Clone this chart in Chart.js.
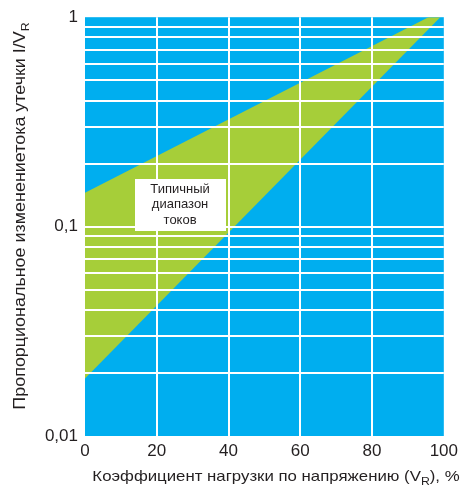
<!DOCTYPE html>
<html>
<head>
<meta charset="utf-8">
<script src="https://cdn.jsdelivr.net/npm/chart.js@4.4.0/dist/chart.umd.min.js"></script>
<style>
  html, body { margin: 0; padding: 0; background: #ffffff; }
  canvas { display: block; }
</style>
</head>
<body>
<canvas id="chart" width="463" height="485"></canvas>
<script>
// Load factor (% of rated voltage) at the ends of the band boundaries
const loadPercent = [0, 100];
// Upper and lower edges of the typical leakage-current band, I/V_R
const upperBound = [0.145, 1.09];
const lowerBound = [0.0188, 1.04];

// Axis ticks
const xTicks = [0, 20, 40, 60, 80, 100];
const yTicks = [0.01, 0.02, 0.03, 0.04, 0.05, 0.06, 0.07, 0.08, 0.09,
                0.1, 0.2, 0.3, 0.4, 0.5, 0.6, 0.7, 0.8, 0.9, 1];
const yLabeledTicks = [0.01, 0.1, 1];
const yTickLabels = ['0,01', '0,1', '1'];

// Band caption and where it sits (in data units)
const bandCaption = ['Типичный', 'диапазон', 'токов'];
const bandCaptionAt = { x: 26.5, y: 0.127 };

const FONT = "'Liberation Sans', Arial, Helvetica, sans-serif";
const TEXT = '#231f20';
const BLUE = '#00aeef';
const GREEN = '#a6ce39';

const plotBackground = {
  id: 'plotBackground',
  beforeDraw(chart) {
    const { ctx, chartArea: a } = chart;
    ctx.save();
    ctx.fillStyle = BLUE;
    ctx.fillRect(a.left, a.top, a.right - a.left, a.bottom - a.top);
    ctx.restore();
  }
};

// Draws a run of text pieces (some as subscripts), centred on cx,
// widened horizontally by `stretch`
function drawRichText(ctx, parts, cx, y, size, stretch) {
  const subSize = Math.round(size * 0.7);
  let total = 0;
  parts.forEach(p => {
    ctx.font = (p.sub ? subSize : size) + 'px ' + FONT;
    p.w = ctx.measureText(p.t).width;
    total += p.w;
  });
  ctx.save();
  ctx.translate(cx, y);
  ctx.scale(stretch, 1);
  let x = -total / 2;
  parts.forEach(p => {
    ctx.font = (p.sub ? subSize : size) + 'px ' + FONT;
    ctx.fillText(p.t, x, p.sub ? size * 0.28 : 0);
    x += p.w;
  });
  ctx.restore();
}

const titlesAndCaption = {
  id: 'titlesAndCaption',
  afterDraw(chart) {
    const { ctx, scales } = chart;
    ctx.save();
    ctx.fillStyle = TEXT;
    ctx.textBaseline = 'alphabetic';
    ctx.textAlign = 'left';

    // X axis title
    drawRichText(ctx, [
      { t: 'Коэффициент нагрузки по напряжению (V' },
      { t: 'R', sub: true },
      { t: '), %' }
    ], 276, 481, 15, 1.12);

    // Y axis title
    ctx.save();
    ctx.translate(25, 216);
    ctx.rotate(-Math.PI / 2);
    drawRichText(ctx, [
      { t: 'Пропорциональное изменениетока утечки I/V' },
      { t: 'R', sub: true }
    ], 0, 0, 16, 1.12);
    ctx.restore();

    // Caption box over the band
    const cx = scales.x.getPixelForValue(bandCaptionAt.x);
    const cy = scales.y.getPixelForValue(bandCaptionAt.y);
    const w = 91, h = 52;
    ctx.fillStyle = '#ffffff';
    ctx.fillRect(Math.round(cx - w / 2), Math.round(cy - h / 2), w, h);
    ctx.fillStyle = TEXT;
    ctx.font = '13px ' + FONT;
    ctx.textAlign = 'center';
    ctx.textBaseline = 'middle';
    bandCaption.forEach((line, i) => {
      ctx.fillText(line, cx, cy + (i - 1) * 15.5);
    });
    ctx.restore();
  }
};

const gridColor = (min, max) => (c) =>
  (c.tick && (c.tick.value === min || c.tick.value === max)) ? 'rgba(0,0,0,0)' : '#ffffff';

new Chart(document.getElementById('chart'), {
  type: 'line',
  data: {
    datasets: [
      {
        label: 'upper',
        data: loadPercent.map((x, i) => ({ x, y: upperBound[i] })),
        borderWidth: 0,
        pointRadius: 0,
        backgroundColor: GREEN,
        fill: '+1'
      },
      {
        label: 'lower',
        data: loadPercent.map((x, i) => ({ x, y: lowerBound[i] })),
        borderWidth: 0,
        pointRadius: 0,
        fill: false
      }
    ]
  },
  options: {
    responsive: false,
    animation: false,
    devicePixelRatio: 1,
    layout: { padding: { left: 0, right: 17, top: 17, bottom: 0 } },
    plugins: { legend: { display: false }, tooltip: { enabled: false } },
    scales: {
      x: {
        type: 'linear',
        min: 0,
        max: 100,
        afterBuildTicks(scale) { scale.ticks = xTicks.map(v => ({ value: v })); },
        afterFit(scale) { scale.height = 49; },
        ticks: {
          color: TEXT,
          font: { family: FONT, size: 17 },
          padding: 5,
          maxRotation: 0
        },
        grid: { color: gridColor(0, 100), lineWidth: 2, drawTicks: false, z: 1 },
        border: { display: false }
      },
      y: {
        type: 'logarithmic',
        min: 0.01,
        max: 1,
        afterBuildTicks(scale) { scale.ticks = yTicks.map(v => ({ value: v })); },
        afterFit(scale) { scale.width = 85; },
        ticks: {
          color: TEXT,
          font: { family: FONT, size: 17 },
          padding: 7,
          autoSkip: false,
          callback(value) {
            const i = yLabeledTicks.indexOf(value);
            return i >= 0 ? yTickLabels[i] : '';
          }
        },
        grid: { color: gridColor(0.01, 1), lineWidth: 2, drawTicks: false, z: 1 },
        border: { display: false }
      }
    }
  },
  plugins: [plotBackground, titlesAndCaption]
});
</script>
</body>
</html>
